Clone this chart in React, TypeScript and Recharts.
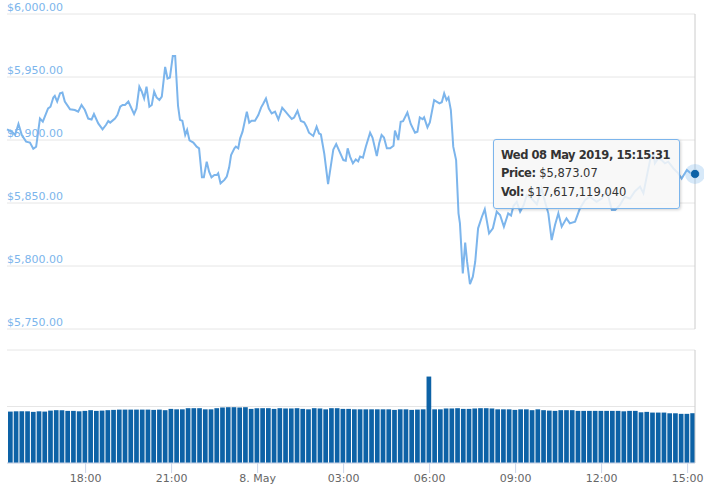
import React from 'react';
import { LineChart, Line, XAxis, YAxis, CartesianGrid, ReferenceDot, ReferenceLine, BarChart, Bar } from 'recharts';

// Time axis: minutes elapsed since Tue 07 May 2019, 15:15:31
const priceMinutes = [
  0, 10, 17, 24, 31, 40, 48, 55, 61, 69,
  75, 86, 91, 97, 100, 105, 111, 116, 121, 132,
  142, 149, 156, 163, 170, 177, 182, 191, 200, 207,
  212, 216, 226, 231, 237, 242, 247, 254, 259, 266,
  271, 277, 282, 287, 292, 298, 303, 308, 313, 319,
  324, 331, 336, 341, 347, 352, 358, 362, 367, 373,
  377, 382, 390, 397, 402, 408, 412, 418, 423, 428,
  434, 439, 442, 447, 455, 460, 465, 469, 476, 479,
  484, 488, 493, 502, 507, 512, 519, 526, 532, 536,
  542, 548, 554, 561, 568, 576, 583, 589, 596, 601,
  608, 615, 622, 627, 632, 641, 648, 653, 657, 664,
  672, 683, 689, 704, 709, 713, 718, 724, 730, 735,
  739, 745, 751, 760, 765, 774, 779, 784, 789, 795,
  802, 809, 812, 819, 824, 829, 838, 845, 854, 859,
  864, 870, 873, 880, 885, 894, 905, 910, 915, 920,
  924, 929, 934, 940, 945, 948, 954, 959, 963, 969,
  975, 980, 986, 994, 1000, 1009, 1017, 1025, 1032, 1040,
  1049, 1055, 1060, 1067, 1074, 1081, 1088, 1098, 1109, 1119,
  1126, 1133, 1140, 1147, 1154, 1161, 1171, 1178, 1189, 1199,
  1210, 1220, 1234, 1245, 1255, 1266, 1273, 1283, 1293, 1304,
  1314, 1325, 1332, 1339, 1346, 1353, 1356, 1363, 1370, 1377,
  1384, 1395, 1405, 1412, 1423, 1430, 1440,
];

const priceValues = [
  5908.5, 5906.6, 5904, 5912.7, 5904, 5898.7, 5898, 5893, 5894.7, 5917,
  5914.5, 5925, 5926.4, 5933.8, 5935, 5930.5, 5937, 5937.6, 5930.5, 5924.4,
  5923.8, 5922.5, 5927.8, 5923.8, 5917, 5916.3, 5920.6, 5913.2, 5908.5, 5911.9,
  5915, 5913.8, 5917, 5919.8, 5926.4, 5927.8, 5927.8, 5930.5, 5926.4, 5920.6,
  5925, 5942.3, 5938.5, 5933, 5942.3, 5926.4, 5927.8, 5938.5, 5933.8, 5931.7,
  5934.4, 5958, 5948.8, 5949.6, 5966.7, 5966.7, 5927, 5916, 5915.3, 5904,
  5908, 5899.7, 5898, 5894.7, 5893.4, 5870.4, 5870.4, 5882.8, 5874.9, 5870.4,
  5872.2, 5872.2, 5873.6, 5865.6, 5868.3, 5871, 5878.3, 5888, 5893.4, 5894.7,
  5893.4, 5901.3, 5906.6, 5922.5, 5913.8, 5915.3, 5915.3, 5919.8, 5925.9, 5928.6,
  5933, 5925, 5921.1, 5922.5, 5916.3, 5925.6, 5922.5, 5919.8, 5916.7, 5917.8,
  5923.1, 5915.1, 5914, 5910.6, 5905.8, 5903.2, 5910.6, 5905.2, 5904.4, 5889.3,
  5865, 5892.5, 5896.8, 5884.1, 5883.6, 5893.4, 5886.8, 5881.5, 5884.6, 5883,
  5886.8, 5886, 5894.7, 5905.8, 5902, 5887.3, 5897.4, 5904, 5902, 5893.4,
  5893.4, 5895.5, 5907.4, 5900, 5914.5, 5915, 5921.8, 5912.7, 5905.8, 5906.5,
  5918, 5916.5, 5918, 5910, 5914, 5931.7, 5929, 5930, 5937, 5931.7,
  5933.8, 5923.8, 5894.7, 5884.1, 5841.8, 5833.8, 5794.1, 5818.5, 5803.4, 5785.7,
  5791.5, 5803.4, 5829.9, 5839.1, 5845, 5825.9, 5829.9, 5843.1, 5840.5, 5831.2,
  5841.8, 5840, 5847.6, 5851, 5843.1, 5848, 5856.3, 5853.6, 5849, 5861.5,
  5851, 5841.8, 5820.6, 5832.5, 5841.8, 5831.2, 5837.8, 5833.8, 5835.2, 5845.6,
  5852.4, 5855, 5851, 5853.6, 5860.3, 5844.4, 5844.4, 5848.4, 5855, 5853.6,
  5859.2, 5863, 5857.8, 5871, 5884.1, 5889, 5881.5, 5885.4, 5884.1, 5881.5,
  5882.8, 5877.4, 5873.5, 5869.4, 5876.2, 5874, 5873.07,
];

// Volume bars, one per 12 minutes, in billions of USD
const volumeBillions = [
  18.2, 18.3, 18.3, 18.3, 18.1, 18.3, 18.2, 18.55, 18.7, 18.7,
  18.45, 18.45, 18.3, 18.45, 18.7, 18.45, 18.55, 18.7, 18.8, 18.9,
  18.9, 18.9, 18.9, 18.9, 18.9, 18.8, 18.9, 18.7, 19.15, 19.0,
  19.0, 19.4, 19.4, 19.4, 19.0, 19.0, 19.4, 19.65, 19.75, 19.75,
  19.65, 19.75, 19.15, 19.4, 19.4, 19.4, 19.15, 19.4, 19.3, 19.3,
  19.4, 19.15, 19.0, 19.4, 19.3, 19.0, 19.4, 19.4, 19.15, 19.15,
  19.0, 19.0, 19.0, 19.0, 19.0, 19.0, 19.0, 18.8, 19.0, 19.0,
  18.8, 18.9, 19.0, 30.6, 19.0, 19.0, 19.3, 19.3, 19.4, 19.15,
  19.15, 19.3, 19.4, 19.4, 19.3, 19.0, 19.0, 19.0, 18.8, 19.0,
  19.0, 18.7, 19.0, 18.7, 18.55, 18.45, 18.7, 18.7, 18.7, 18.45,
  18.45, 18.45, 18.45, 18.45, 18.45, 18.45, 18.45, 18.3, 18.45, 18.45,
  17.95, 18.1, 17.85, 17.85, 17.85, 17.6, 17.6, 17.4, 17.4, 17.62,
];
const volumeStepMinutes = 12;

const xTickMinutes = [164.5, 344.5, 524.5, 704.5, 884.5, 1064.5, 1244.5, 1424.5];
const xTickLabels = ['18:00', '21:00', '8. May', '03:00', '06:00', '09:00', '12:00', '15:00'];
const priceTicks = [5750, 5800, 5850, 5900, 5950, 6000];
const volumeTicks = [0, 20e9, 40e9];

const tooltipTime = 'Wed 08 May 2019, 15:15:31';
const tooltipPrice = 5873.07;
const tooltipVolume = 17617119040;

const priceData = priceMinutes.map((t, i) => ({ t, price: priceValues[i] }));
const volumeData = volumeBillions.map((v, i) => ({
  t: volumeStepMinutes / 2 + i * volumeStepMinutes,
  vol: v * 1e9,
}));

const LINE = '#7cb5ec';
const BAR = '#0d62a6';
const FONT = '"DejaVu Sans", Verdana, sans-serif';

const money2 = (v: number) =>
  '$' + v.toLocaleString('en-US', { minimumFractionDigits: 2, maximumFractionDigits: 2 });
const money0 = (v: number) => '$' + v.toLocaleString('en-US', { maximumFractionDigits: 0 });

const PriceTick = (props: any) => {
  const { x, y, payload } = props;
  return (
    <text x={x} y={y - 3} fill={LINE} fontSize={11} fontFamily={FONT} textAnchor="start">
      {money2(payload.value)}
    </text>
  );
};

const lastT = priceMinutes[priceMinutes.length - 1];
const lastP = priceValues[priceValues.length - 1];

const boldTight = { fontWeight: 'bold' as const, letterSpacing: '-0.45px' };

export default function App() {
  return (
    <div
      style={{
        position: 'absolute',
        left: 0,
        top: 0,
        width: 704,
        height: 497,
        background: '#fff',
        fontFamily: FONT,
        overflow: 'hidden',
      }}
    >
      <div style={{ position: 'absolute', left: 0, top: 0 }}>
        <LineChart width={704} height={340} data={priceData} margin={{ top: 14, right: 9, bottom: 11, left: 7 }}>
          <CartesianGrid yAxisId="p" horizontal vertical={false} stroke="#e6e6e6" />
          <XAxis dataKey="t" type="number" domain={[0, 1440]} hide />
          <YAxis
            yAxisId="p"
            domain={[5750, 6000]}
            ticks={priceTicks}
            width={60}
            mirror
            axisLine={false}
            tickLine={false}
            tickSize={0}
            tickMargin={0}
            tick={<PriceTick />}
            interval={0}
          />
          <ReferenceLine yAxisId="p" x={1440} stroke="#cccccc" strokeWidth={1} />
          <Line
            yAxisId="p"
            type="linear"
            dataKey="price"
            stroke={LINE}
            strokeWidth={2}
            dot={false}
            activeDot={false}
            isAnimationActive={false}
          />
          <ReferenceDot yAxisId="p" x={lastT} y={lastP} r={10} fill={LINE} fillOpacity={0.3} stroke="none" ifOverflow="visible" />
          <ReferenceDot yAxisId="p" x={lastT} y={lastP} r={4.5} fill={BAR} stroke="#ffffff" strokeWidth={0.5} ifOverflow="visible" />
        </LineChart>
      </div>

      <div style={{ position: 'absolute', left: 0, top: 340 }}>
        <BarChart width={704} height={157} data={volumeData} margin={{ top: 10, right: 9, bottom: 4, left: 7 }} barGap={0}>
          <CartesianGrid yAxisId="v" horizontal vertical={false} stroke="#e6e6e6" />
          <XAxis
            dataKey="t"
            type="number"
            domain={[0, 1440]}
            ticks={xTickMinutes}
            interval={0}
            tickFormatter={(v: number) => xTickLabels[xTickMinutes.indexOf(v)]}
            height={30}
            tickSize={10}
            tickMargin={1}
            axisLine={{ stroke: '#ccd6eb' }}
            tickLine={{ stroke: '#ccd6eb' }}
            tick={{ fill: '#666666', fontSize: 11, fontFamily: FONT }}
          />
          <YAxis yAxisId="v" domain={[0, 40e9]} ticks={volumeTicks} hide />
          <ReferenceLine yAxisId="v" x={1440} stroke="#cccccc" strokeWidth={1} />
          <Bar yAxisId="v" dataKey="vol" fill={BAR} barSize={4.7} isAnimationActive={false} />
        </BarChart>
      </div>

      <div
        style={{
          position: 'absolute',
          left: 493,
          top: 139,
          width: 187,
          height: 70,
          boxSizing: 'border-box',
          background: 'rgba(247,247,247,0.85)',
          border: `1px solid ${LINE}`,
          borderRadius: 3,
          boxShadow: '1px 1px 3px rgba(0,0,0,0.18)',
          padding: '6px 7px',
          fontSize: 11.5,
          lineHeight: '18.4px',
          color: '#333333',
          whiteSpace: 'nowrap',
        }}
      >
        <div style={boldTight}>{tooltipTime}</div>
        <div>
          <span style={boldTight}>Price:</span> {money2(tooltipPrice)}
        </div>
        <div>
          <span style={boldTight}>Vol:</span> {money0(tooltipVolume)}
        </div>
      </div>
    </div>
  );
}
